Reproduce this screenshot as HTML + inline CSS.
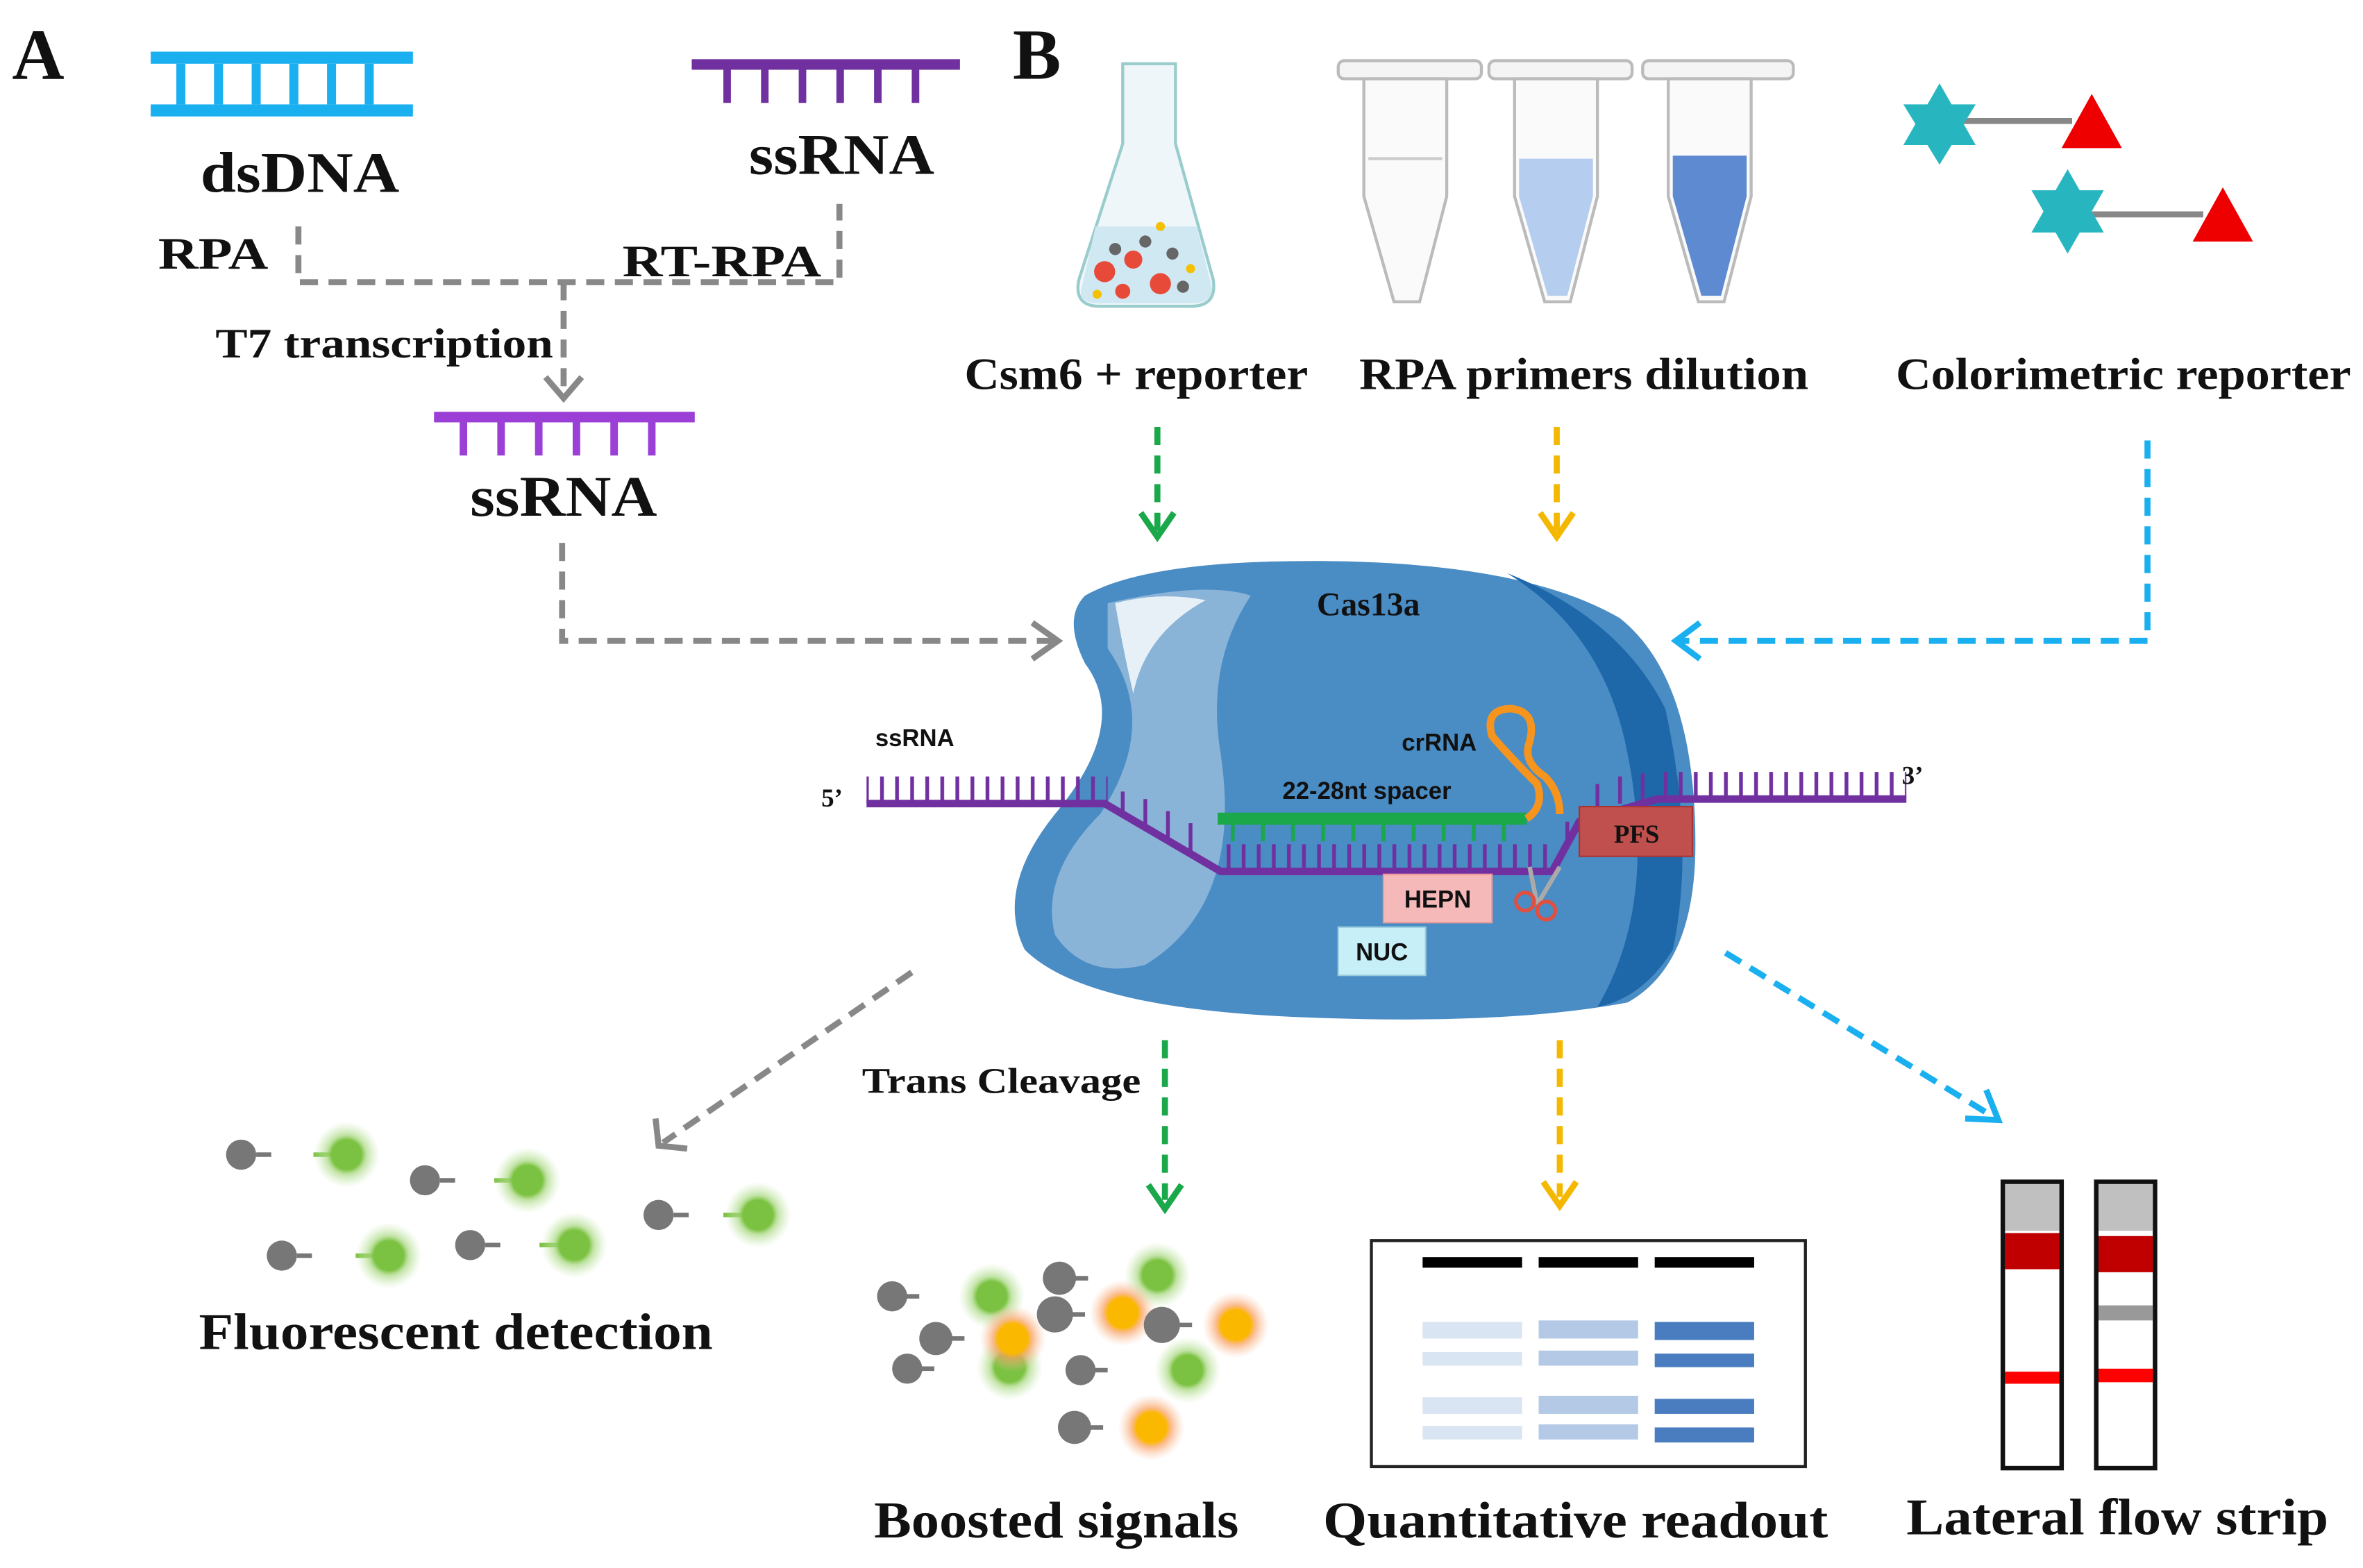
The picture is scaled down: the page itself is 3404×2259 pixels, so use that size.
<!DOCTYPE html>
<html><head><meta charset="utf-8"><style>
html,body{margin:0;padding:0;background:#fff}
svg{display:block}
text{font-family:"Liberation Serif",serif;font-weight:bold;fill:#111}
.s{font-family:"Liberation Sans",sans-serif}
</style></head><body>
<svg width="3404" height="2259" viewBox="0 0 1568 1040" xmlns="http://www.w3.org/2000/svg">
<defs>
<radialGradient id="gg"><stop offset="0.45" stop-color="#7cc242"/><stop offset="0.6" stop-color="#a8d880" stop-opacity="0.7"/><stop offset="1" stop-color="#c8e8b0" stop-opacity="0"/></radialGradient>
<radialGradient id="og"><stop offset="0.45" stop-color="#fbb800"/><stop offset="0.6" stop-color="#f9a060" stop-opacity="0.7"/><stop offset="1" stop-color="#f9c0a0" stop-opacity="0"/></radialGradient>
<pattern id="teeth" width="10" height="20" patternUnits="userSpaceOnUse"><rect x="4" y="0" width="2.5" height="20" fill="#7030a0"/></pattern>
</defs>
<text x="8" y="52" font-size="48">A</text>
<text x="672" y="52" font-size="48">B</text>
<!-- dsDNA -->
<rect x="100" y="34" width="174" height="8" fill="#1ab0f0"/>
<rect x="100" y="69" width="174" height="8" fill="#1ab0f0"/>
<g fill="#1ab0f0"><rect x="117" y="42" width="6" height="27"/><rect x="142" y="42" width="6" height="27"/><rect x="167" y="42" width="6" height="27"/><rect x="192" y="42" width="6" height="27"/><rect x="217" y="42" width="6" height="27"/><rect x="242" y="42" width="6" height="27"/></g>
<text x="133" y="127" font-size="38" textLength="132" lengthAdjust="spacingAndGlyphs">dsDNA</text>
<rect x="459" y="39" width="178" height="7" fill="#7030a0"/>
<g fill="#7030a0"><rect x="480" y="46" width="5" height="22"/><rect x="505" y="46" width="5" height="22"/><rect x="530" y="46" width="5" height="22"/><rect x="555" y="46" width="5" height="22"/><rect x="580" y="46" width="5" height="22"/><rect x="605" y="46" width="5" height="22"/></g>
<text x="497" y="115" font-size="38" textLength="123" lengthAdjust="spacingAndGlyphs">ssRNA</text>
<text x="105" y="178" font-size="30" textLength="73" lengthAdjust="spacingAndGlyphs">RPA</text>
<text x="413" y="183" font-size="30" textLength="132" lengthAdjust="spacingAndGlyphs">RT-RPA</text>
<g stroke="#888" stroke-width="4" fill="none" stroke-dasharray="12,7">
<path d="M198 150 V187 H557 V135"/><path d="M374 187 V262"/>
<path d="M373 360 V425 H700"/>
<path d="M605 645 L440 758"/>
</g>
<path d="M362 250 L374 264 L386 250" stroke="#888" stroke-width="4" fill="none"/>
<path d="M685 413 L702 425 L685 437" stroke="#888" stroke-width="4" fill="none"/>
<path d="M435 742 L437 760 L456 762" stroke="#888" stroke-width="4" fill="none"/>
<text x="143" y="237" font-size="28" textLength="224" lengthAdjust="spacingAndGlyphs">T7 transcription</text>
<rect x="288" y="273" width="173" height="7" fill="#9b3fd6"/>
<g fill="#9b3fd6"><rect x="305" y="280" width="5" height="22"/><rect x="330" y="280" width="5" height="22"/><rect x="355" y="280" width="5" height="22"/><rect x="380" y="280" width="5" height="22"/><rect x="405" y="280" width="5" height="22"/><rect x="430" y="280" width="5" height="22"/></g>
<text x="312" y="342" font-size="38" textLength="124" lengthAdjust="spacingAndGlyphs">ssRNA</text>
<!-- flask -->
<path d="M745 42 H780 V95 L805 185 Q808 203 790 203 H730 Q712 203 716 185 L745 95 Z" fill="#eef6fa" stroke="#9cc" stroke-width="2"/>
<path d="M727 150 H794 L804 190 Q805 201 790 201 H730 Q714 201 718 190 Z" fill="#cfe8f2"/>
<g fill="#e84a3a"><circle cx="733" cy="180" r="7"/><circle cx="752" cy="172" r="6"/><circle cx="770" cy="188" r="7"/><circle cx="745" cy="193" r="5"/></g>
<g fill="#666"><circle cx="760" cy="160" r="4"/><circle cx="778" cy="168" r="4"/><circle cx="740" cy="165" r="4"/><circle cx="785" cy="190" r="4"/></g>
<g fill="#f5c000"><circle cx="770" cy="150" r="3"/><circle cx="790" cy="178" r="3"/><circle cx="728" cy="195" r="3"/></g>
<!-- tubes -->
<g stroke="#bbb" stroke-width="2" fill="#f4f4f4">
<rect x="888" y="40" width="95" height="12" rx="4"/><rect x="988" y="40" width="95" height="12" rx="4"/><rect x="1090" y="40" width="100" height="12" rx="4"/>
<path d="M905 52 H960 V130 L942 200 H925 L905 130 Z" fill="#fafafa"/>
<path d="M1005 52 H1060 V130 L1042 200 H1025 L1005 130 Z" fill="#fafafa"/>
<path d="M1107 52 H1162 V130 L1144 200 H1127 L1107 130 Z" fill="#fafafa"/>
</g>
<path d="M1008 105 H1057 V130 L1040 196 H1027 L1008 130 Z" fill="#b5cdee"/>
<path d="M1110 103 H1159 V130 L1142 196 H1129 L1110 130 Z" fill="#5d8ad0"/>
<line x1="908" y1="105" x2="957" y2="105" stroke="#ccc" stroke-width="2"/>
<!-- reporters -->
<g stroke="#888" stroke-width="4"><line x1="1287" y1="80" x2="1375" y2="80"/><line x1="1375" y1="142" x2="1462" y2="142"/></g>
<g fill="#27b6c0">
<polygon points="1287,55 1295,69 1311,69 1303,82 1311,96 1295,96 1287,109 1279,96 1263,96 1271,82 1263,69 1279,69"/>
<polygon points="1372,112 1380,126 1396,126 1388,140 1396,154 1380,154 1372,168 1364,154 1348,154 1356,140 1348,126 1364,126"/>
</g>
<polygon points="1388,62 1408,98 1368,98" fill="#e00"/>
<polygon points="1475,124 1495,160 1455,160" fill="#e00"/>
<text x="640" y="258" font-size="30" textLength="228" lengthAdjust="spacingAndGlyphs">Csm6 + reporter</text>
<text x="902" y="258" font-size="30" textLength="298" lengthAdjust="spacingAndGlyphs">RPA primers  dilution</text>
<text x="1258" y="258" font-size="30" textLength="302" lengthAdjust="spacingAndGlyphs">Colorimetric  reporter</text>
<!-- colored arrows -->
<g stroke-width="4" fill="none" stroke-dasharray="12,7">
<path d="M768 283 V352" stroke="#1aa84a"/><path d="M1033 283 V352" stroke="#f5b800"/>
<path d="M1425 292 V425 H1115" stroke="#1ab0f0"/>
<path d="M773 690 V796" stroke="#1aa84a"/><path d="M1035 690 V794" stroke="#f5b800"/>
<path d="M1145 632 L1318 738" stroke="#1ab0f0"/>
</g>
<path d="M757 340 L768 356 L779 340" stroke="#1aa84a" stroke-width="4" fill="none"/>
<path d="M1022 340 L1033 356 L1044 340" stroke="#f5b800" stroke-width="4" fill="none"/>
<path d="M1128 413 L1112 425 L1128 437" stroke="#1ab0f0" stroke-width="4" fill="none"/>
<path d="M762 786 L773 802 L784 786" stroke="#1aa84a" stroke-width="4" fill="none"/>
<path d="M1024 784 L1035 800 L1046 784" stroke="#f5b800" stroke-width="4" fill="none"/>
<path d="M1304 742 L1326 743 L1318 723" stroke="#1ab0f0" stroke-width="4" fill="none"/>
<!-- Cas13a -->
<path d="M720 395 Q760 372 870 372 Q1010 372 1075 410 Q1125 450 1125 560 Q1125 640 1080 665 Q1000 680 870 675 Q720 670 680 630 Q660 590 700 540 Q750 480 720 440 Q705 410 720 395 Z" fill="#4a8cc4"/>
<path d="M1000 380 Q1075 410 1105 470 Q1125 560 1110 630 Q1090 662 1060 668 Q1100 600 1080 500 Q1065 420 1000 380 Z" fill="#1e68aa"/>
<path d="M735 400 Q800 385 830 395 Q800 440 810 500 Q825 600 760 640 Q720 650 700 620 Q690 580 730 540 Q770 480 735 430 Z" fill="#8ab3d8"/>
<path d="M740 400 Q770 392 800 398 Q760 420 752 460 Q745 430 740 400 Z" fill="#fff" opacity="0.8"/>
<text x="908" y="408" font-size="22" text-anchor="middle">Cas13a</text>
<!-- strands -->
<rect x="575" y="515" width="160" height="18" fill="url(#teeth)"/>
<rect x="1100" y="512" width="165" height="18" fill="url(#teeth)"/>
<rect x="810" y="560" width="220" height="16" fill="url(#teeth)"/>
<g stroke="#7030a0" stroke-width="2.5"><line x1="745" y1="525" x2="745" y2="540"/><line x1="760" y1="530" x2="760" y2="550"/><line x1="775" y1="538" x2="775" y2="558"/><line x1="790" y1="546" x2="790" y2="566"/><line x1="1040" y1="545" x2="1040" y2="562"/><line x1="1060" y1="520" x2="1060" y2="538"/><line x1="1075" y1="515" x2="1075" y2="533"/><line x1="1090" y1="513" x2="1090" y2="531"/></g>
<path d="M575 533 H733 L810 578 H1030 L1048 545 L1100 530 H1265" stroke="#7030a0" stroke-width="5" fill="none"/>
<rect x="808" y="539" width="205" height="8" fill="#1aa84a"/>
<g stroke="#1aa84a" stroke-width="2.5"><line x1="818" y1="547" x2="818" y2="558"/><line x1="838" y1="547" x2="838" y2="558"/><line x1="858" y1="547" x2="858" y2="558"/><line x1="878" y1="547" x2="878" y2="558"/><line x1="898" y1="547" x2="898" y2="558"/><line x1="918" y1="547" x2="918" y2="558"/><line x1="938" y1="547" x2="938" y2="558"/><line x1="958" y1="547" x2="958" y2="558"/><line x1="978" y1="547" x2="978" y2="558"/><line x1="998" y1="547" x2="998" y2="558"/></g>
<path d="M1013 543 Q1025 535 1020 520 Q1000 500 990 488 Q985 470 1003 470 Q1020 472 1015 492 Q1010 505 1025 515 Q1035 525 1035 540" stroke="#f7941d" stroke-width="5" fill="none"/>
<text class="s" x="607" y="495" font-size="16" text-anchor="middle">ssRNA</text>
<text x="545" y="535" font-size="17">5’</text>
<text x="1262" y="520" font-size="17">3’</text>
<text class="s" x="955" y="498" font-size="16" text-anchor="middle">crRNA</text>
<text class="s" x="907" y="530" font-size="16" text-anchor="middle">22-28nt spacer</text>
<rect x="1048" y="535" width="75" height="33" fill="#c0504d" stroke="#a33" stroke-width="1"/>
<text x="1086" y="559" font-size="17" text-anchor="middle">PFS</text>
<path d="M1015 575 L1020 600 M1035 575 L1020 600" stroke="#aaa" stroke-width="3"/>
<circle cx="1012" cy="598" r="6" fill="none" stroke="#e05040" stroke-width="2.5"/><circle cx="1026" cy="604" r="6" fill="none" stroke="#e05040" stroke-width="2.5"/>
<rect x="918" y="580" width="72" height="32" fill="#f4b9b8" stroke="#e99" stroke-width="1"/>
<text class="s" x="954" y="602" font-size="16" text-anchor="middle">HEPN</text>
<rect x="888" y="615" width="58" height="32" fill="#c6eff7" stroke="#9cd" stroke-width="1"/>
<text class="s" x="917" y="637" font-size="16" text-anchor="middle">NUC</text>
<text x="572" y="725" font-size="24" textLength="185" lengthAdjust="spacingAndGlyphs">Trans Cleavage</text>
<!-- fluorescent -->
<g fill="#777">
<circle cx="160" cy="766" r="10"/><circle cx="282" cy="783" r="10"/><circle cx="437" cy="806" r="10"/><circle cx="187" cy="833" r="10"/><circle cx="312" cy="826" r="10"/>
</g>
<g stroke="#777" stroke-width="3"><line x1="170" y1="766" x2="180" y2="766"/><line x1="292" y1="783" x2="302" y2="783"/><line x1="447" y1="806" x2="457" y2="806"/><line x1="197" y1="833" x2="207" y2="833"/><line x1="322" y1="826" x2="332" y2="826"/></g>
<g stroke="#7cc242" stroke-width="3"><line x1="208" y1="766" x2="222" y2="766"/><line x1="328" y1="783" x2="342" y2="783"/><line x1="480" y1="806" x2="494" y2="806"/><line x1="236" y1="833" x2="250" y2="833"/><line x1="358" y1="826" x2="372" y2="826"/></g>
<g fill="url(#gg)"><circle cx="230" cy="766" r="22"/><circle cx="350" cy="783" r="22"/><circle cx="503" cy="806" r="22"/><circle cx="258" cy="833" r="22"/><circle cx="381" cy="826" r="22"/></g>
<text x="132" y="895" font-size="34" textLength="341" lengthAdjust="spacingAndGlyphs">Fluorescent detection</text>
<!-- boosted -->
<g fill="url(#gg)"><circle cx="658" cy="860" r="22"/><circle cx="768" cy="846" r="22"/><circle cx="670" cy="907" r="22"/><circle cx="788" cy="909" r="22"/></g>
<g fill="url(#og)"><circle cx="672" cy="888" r="22"/><circle cx="745" cy="871" r="22"/><circle cx="820" cy="879" r="22"/><circle cx="764" cy="947" r="22"/></g>
<g stroke="#777" stroke-width="3"><line x1="600" y1="860" x2="610" y2="860"/><line x1="712" y1="848" x2="722" y2="848"/><line x1="630" y1="888" x2="640" y2="888"/><line x1="710" y1="872" x2="720" y2="872"/><line x1="781" y1="879" x2="791" y2="879"/><line x1="610" y1="908" x2="620" y2="908"/><line x1="725" y1="909" x2="735" y2="909"/><line x1="722" y1="947" x2="732" y2="947"/></g>
<g fill="#777"><circle cx="592" cy="860" r="10"/><circle cx="703" cy="848" r="11"/><circle cx="621" cy="888" r="11"/><circle cx="700" cy="872" r="12"/><circle cx="771" cy="879" r="12"/><circle cx="602" cy="908" r="10"/><circle cx="717" cy="909" r="10"/><circle cx="713" cy="947" r="11"/></g>
<text x="580" y="1020" font-size="34" textLength="242" lengthAdjust="spacingAndGlyphs">Boosted signals</text>
<!-- gel -->
<rect x="910" y="823" width="288" height="150" fill="#fff" stroke="#222" stroke-width="2"/>
<g fill="#000"><rect x="944" y="834" width="66" height="7"/><rect x="1021" y="834" width="66" height="7"/><rect x="1098" y="834" width="66" height="7"/></g>
<g fill="#dae5f3"><rect x="944" y="877" width="66" height="11"/><rect x="944" y="897" width="66" height="9"/><rect x="944" y="927" width="66" height="11"/><rect x="944" y="946" width="66" height="9"/></g>
<g fill="#b3c9e6"><rect x="1021" y="876" width="66" height="12"/><rect x="1021" y="896" width="66" height="10"/><rect x="1021" y="926" width="66" height="12"/><rect x="1021" y="945" width="66" height="10"/></g>
<g fill="#4a7dbf"><rect x="1098" y="877" width="66" height="12"/><rect x="1098" y="898" width="66" height="9"/><rect x="1098" y="928" width="66" height="10"/><rect x="1098" y="947" width="66" height="10"/></g>
<text x="878" y="1020" font-size="34" textLength="335" lengthAdjust="spacingAndGlyphs">Quantitative  readout</text>
<!-- strips -->
<g stroke="#111" stroke-width="3"><rect x="1329" y="784" width="39" height="190" fill="#fff"/><rect x="1391" y="784" width="39" height="190" fill="#fff"/></g>
<rect x="1330.5" y="785.5" width="36" height="31" fill="#c0c0c0"/><rect x="1392.5" y="785.5" width="36" height="31" fill="#c0c0c0"/>
<rect x="1330.5" y="818" width="36" height="24" fill="#c00000"/><rect x="1392.5" y="820" width="36" height="24" fill="#c00000"/>
<rect x="1392.5" y="866" width="36" height="10" fill="#999"/>
<rect x="1330.5" y="910" width="36" height="8" fill="#f00"/><rect x="1392.5" y="908" width="36" height="9" fill="#f00"/>
<text x="1265" y="1018" font-size="34" textLength="280" lengthAdjust="spacingAndGlyphs">Lateral flow strip</text>
</svg>
</body></html>
